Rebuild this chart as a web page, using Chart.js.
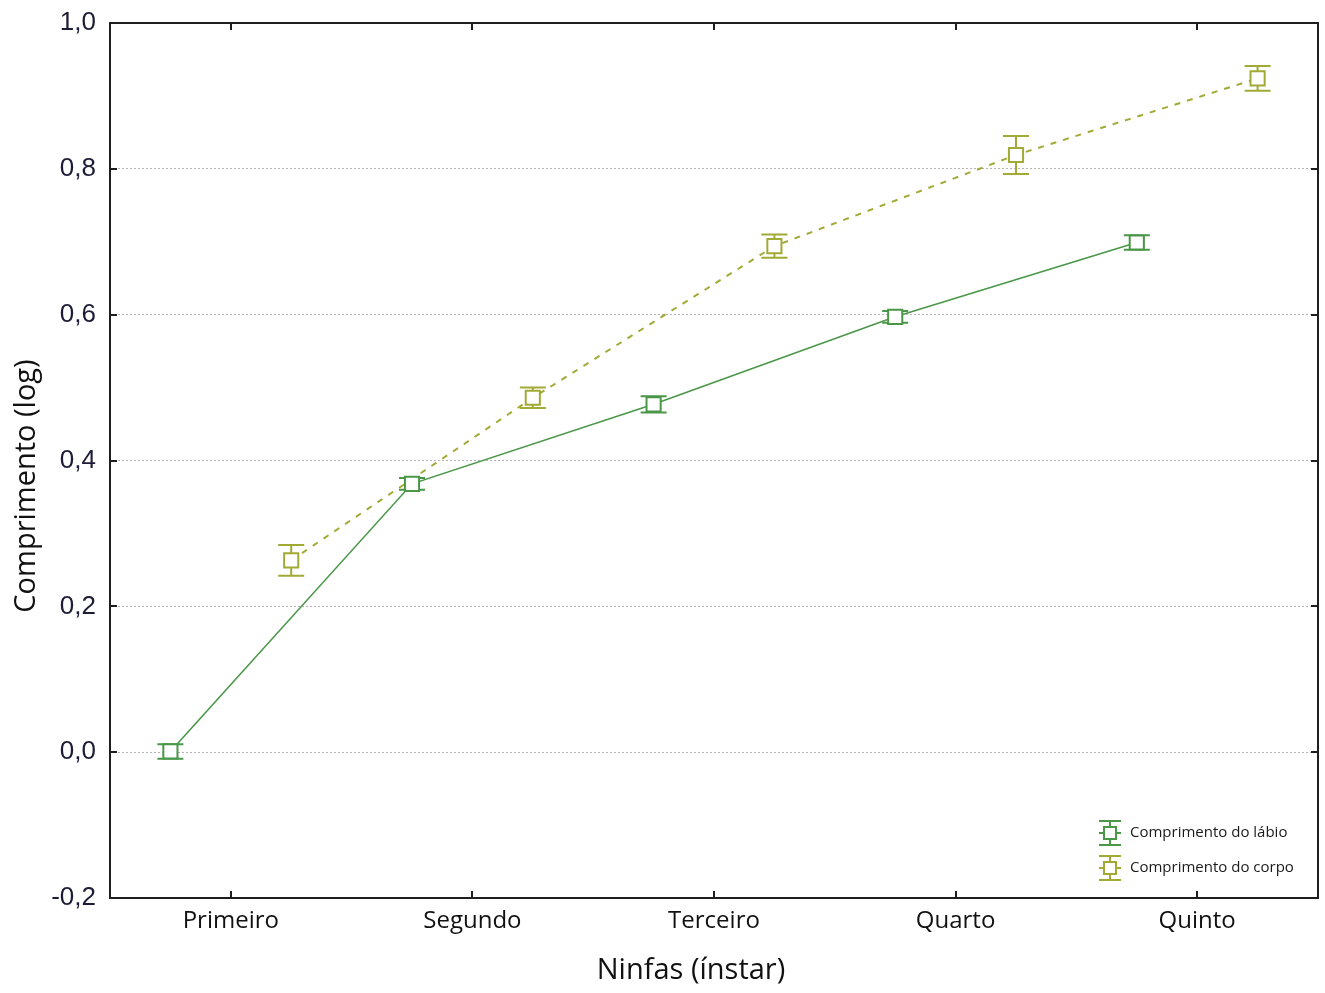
<!DOCTYPE html>
<html lang="pt">
<head>
<meta charset="UTF-8">
<title>Comprimento (log) por ínstar</title>
<script src="https://cdn.jsdelivr.net/npm/chart.js"></script>
<style>
  html, body { margin: 0; background: #fff; overflow: hidden; }
  #wrap { width: 1325px; height: 993px; }
</style>
</head>
<body>
<div id="wrap"><canvas id="chart"></canvas></div>
<script>
    const categories = ['Primeiro', 'Segundo', 'Terceiro', 'Quarto', 'Quinto'];
    const labioMean = [0.001, 0.368, 0.477, 0.597, 0.699];
    const labioErr = [0.010, 0.008, 0.011, 0.008, 0.010];
    const corpoMean = [0.263, 0.486, 0.694, 0.819, 0.924];
    const corpoErr = [0.021, 0.014, 0.016, 0.026, 0.017];
    const legendLabels = ['Comprimento do lábio', 'Comprimento do corpo'];

    const labioColor = '#4a9748';
    const corpoColor = '#a2aa36';
    const fontFamily = '"Open Sans", "Noto Sans", sans-serif';

    // series sit a quarter category left/right of each category centre
    const labioPoints = labioMean.map((v, i) => ({ x: i + 0.25, y: v }));
    const corpoPoints = corpoMean.map((v, i) => ({ x: i + 0.75, y: v }));

    const decor = {
        id: 'decor',
        beforeDatasetsDraw(chart) {
            const ctx = chart.ctx, xs = chart.scales.x, ys = chart.scales.y;
            chart.data.datasets.forEach(ds => {
                ctx.save();
                ctx.strokeStyle = ds.borderColor;
                ctx.lineWidth = 2;
                ds.data.forEach((p, i) => {
                    const px = xs.getPixelForValue(p.x);
                    const top = ys.getPixelForValue(p.y + ds.errors[i]);
                    const bot = ys.getPixelForValue(p.y - ds.errors[i]);
                    ctx.beginPath();
                    ctx.moveTo(px, top); ctx.lineTo(px, bot);
                    ctx.moveTo(px - 13, top); ctx.lineTo(px + 13, top);
                    ctx.moveTo(px - 13, bot); ctx.lineTo(px + 13, bot);
                    ctx.stroke();
                });
                ctx.restore();
            });
        },
        afterDraw(chart) {
            const ctx = chart.ctx, a = chart.chartArea;
            const xs = chart.scales.x, ys = chart.scales.y;
            ctx.save();

            // frame
            ctx.strokeStyle = '#1e1e1e';
            ctx.lineWidth = 2;
            ctx.strokeRect(a.left, a.top, a.right - a.left, a.bottom - a.top);

            // inward tick marks
            ctx.beginPath();
            ys.ticks.forEach(t => {
                const py = Math.round(ys.getPixelForValue(t.value));
                ctx.moveTo(a.left, py); ctx.lineTo(a.left + 7, py);
                ctx.moveTo(a.right, py); ctx.lineTo(a.right - 7, py);
            });
            xs.ticks.forEach(t => {
                const px = Math.round(xs.getPixelForValue(t.value));
                ctx.moveTo(px, a.top); ctx.lineTo(px, a.top + 7);
                ctx.moveTo(px, a.bottom); ctx.lineTo(px, a.bottom - 7);
            });
            ctx.stroke();

            // axis titles
            ctx.fillStyle = '#111';
            ctx.font = '29px ' + fontFamily;
            ctx.textAlign = 'center';
            ctx.textBaseline = 'middle';
            ctx.fillText('Ninfas (ínstar)', 691, 971);
            ctx.save();
            ctx.translate(27, 486);
            ctx.rotate(-Math.PI / 2);
            ctx.fillText('Comprimento (log)', 0, 0);
            ctx.restore();

            // legend
            const rows = [
                { label: legendLabels[0], color: labioColor, y: 833 },
                { label: legendLabels[1], color: corpoColor, y: 868 }
            ];
            rows.forEach(r => {
                const cx = 1110;
                ctx.strokeStyle = r.color;
                ctx.lineWidth = 2;
                ctx.beginPath();
                ctx.moveTo(cx, r.y - 12); ctx.lineTo(cx, r.y - 6);
                ctx.moveTo(cx, r.y + 6); ctx.lineTo(cx, r.y + 12);
                ctx.moveTo(cx - 11, r.y - 12); ctx.lineTo(cx + 11, r.y - 12);
                ctx.moveTo(cx - 11, r.y + 12); ctx.lineTo(cx + 11, r.y + 12);
                ctx.moveTo(cx - 11, r.y); ctx.lineTo(cx - 6, r.y);
                ctx.moveTo(cx + 6, r.y); ctx.lineTo(cx + 11, r.y);
                ctx.stroke();
                ctx.fillStyle = '#fff';
                ctx.fillRect(cx - 6, r.y - 6, 12, 12);
                ctx.strokeRect(cx - 6, r.y - 6, 12, 12);
                ctx.fillStyle = '#1a1a1a';
                ctx.font = '15px ' + fontFamily;
                ctx.textAlign = 'left';
                ctx.fillText(r.label, 1130, r.y);
            });
            ctx.restore();
        }
    };

    new Chart(document.getElementById('chart'), {
        type: 'line',
        data: {
            datasets: [{
                label: legendLabels[0],
                data: labioPoints,
                errors: labioErr,
                borderColor: labioColor,
                borderWidth: 1.6,
                pointStyle: 'rect',
                pointRadius: 10,
                pointBorderWidth: 2,
                pointBorderColor: labioColor,
                pointBackgroundColor: '#fff',
                tension: 0
            }, {
                label: legendLabels[1],
                data: corpoPoints,
                errors: corpoErr,
                borderColor: corpoColor,
                borderWidth: 2,
                borderDash: [6, 7],
                pointStyle: 'rect',
                pointRadius: 10,
                pointBorderWidth: 2,
                pointBorderColor: corpoColor,
                pointBackgroundColor: '#fff',
                tension: 0
            }]
        },
        options: {
            responsive: true,
            maintainAspectRatio: false,
            animation: false,
            events: [],
            layout: { autoPadding: false, padding: { top: 23, right: 7, left: 0, bottom: 0 } },
            plugins: {
                legend: { display: false },
                tooltip: { enabled: false }
            },
            scales: {
                x: {
                    type: 'linear',
                    min: 0,
                    max: 5,
                    afterBuildTicks(scale) {
                        scale.ticks = categories.map((c, i) => ({ value: i + 0.5 }));
                    },
                    afterFit(scale) {
                        scale.height = 95;
                        scale.paddingLeft = 0;
                        scale.paddingRight = 0;
                    },
                    grid: { display: false },
                    border: { display: false },
                    ticks: {
                        autoSkip: false,
                        maxRotation: 0,
                        padding: 1,
                        color: '#111',
                        font: { family: fontFamily, size: 24 },
                        callback: v => categories[Math.round(v - 0.5)]
                    }
                },
                y: {
                    min: -0.2,
                    max: 1.0,
                    afterFit(scale) {
                        scale.width = 110;
                        scale.paddingTop = 0;
                        scale.paddingBottom = 0;
                    },
                    grid: {
                        drawTicks: false,
                        lineWidth: 1,
                        color: c => (c.tick.value < -0.19 || c.tick.value > 0.99) ? 'rgba(0,0,0,0)' : '#b4b4b4'
                    },
                    border: { display: false, dash: [2, 2] },
                    ticks: {
                        stepSize: 0.2,
                        padding: 14,
                        color: '#1c1c36',
                        font: { family: '"Liberation Sans", Arial, sans-serif', size: 26 },
                        callback: v => (Math.abs(v) < 1e-9 ? 0 : v).toFixed(1).replace('.', ',')
                    }
                }
            }
        },
        plugins: [decor]
    });
</script>
</body>
</html>
